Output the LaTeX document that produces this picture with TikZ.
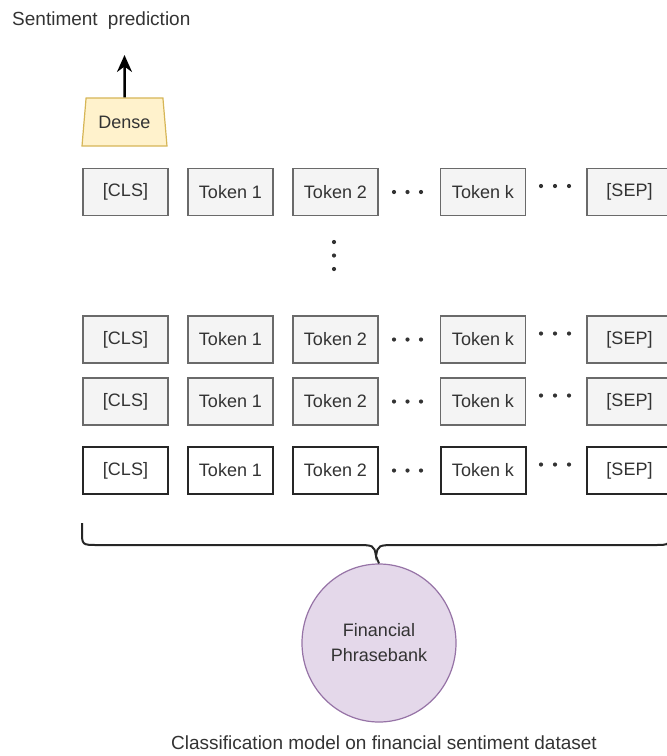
\documentclass[tikz,border=0pt]{standalone}
\usepackage{fontspec}
\setmainfont{Liberation Sans}
\usepackage{xcolor}
\usetikzlibrary{shapes.geometric,arrows.meta}

\definecolor{tokfill}{HTML}{F4F4F4}
\definecolor{tokline}{HTML}{6A6A6A}
\definecolor{densefill}{HTML}{FFF2CC}
\definecolor{denseline}{HTML}{D6B656}
\definecolor{datafill}{HTML}{E4D8EA}
\definecolor{dataline}{HTML}{9673A6}
\definecolor{txt}{HTML}{333333}

\begin{document}
\begin{tikzpicture}[x=1pt, y=-1pt,
	tok/.style={draw=tokline, fill=tokfill, line width=1.5pt, minimum width=85pt, minimum height=47pt, inner sep=0pt, text=txt, font=\fontsize{18}{22}\selectfont},
	toklast/.style={tok, draw=black!85, fill=white, line width=2pt},
	dense/.style={trapezium, trapezium stretches body, trapezium angle=72, draw=denseline, fill=densefill, line width=1.2pt, minimum width=85pt, minimum height=48pt, inner sep=0pt, text=txt, font=\fontsize{18}{22}\selectfont},
	data/.style={ellipse, draw=dataline, fill=datafill, line width=1.2pt, minimum width=154pt, minimum height=158pt, inner sep=0pt, align=center, text=txt, font=\fontsize{18}{25}\selectfont},
	lbl/.style={text=txt, inner sep=0pt, font=\fontsize{19}{23}\selectfont}]
	\useasboundingbox (0,0) rectangle (667,756);

	%Tokenradene
	\foreach \y/\r/\s in {192/a/tok, 339.5/b/tok, 401.5/c/tok, 470.5/d/toklast}{
		\node[\s] (cls\r) at (125.5,\y) {[CLS]};
		\node[\s] (tokA\r) at (230.5,\y) {Token 1};
		\node[\s] (tokB\r) at (335.5,\y) {Token 2};
		\node[\s] (tokK\r) at (483,\y) {Token k};
		\node[\s] (sep\r) at (629.5,\y) {[SEP]};
		\foreach \x in {394,407.5,421} \fill[txt] (\x,\y) circle (2.1pt);
		\foreach \x in {541,555,569} \fill[txt] (\x,\y-6) circle (2.1pt);
	}
	\foreach \y in {242,255.5,269} \fill[txt] (334,\y) circle (2.1pt);

	%Dense og prediksjon
	\node[dense] (dense) at (124.5,122) {Dense};
	\coordinate (pred) at (124.5,55);
	\draw[line width=2.5pt, -{Stealth[length=17pt,width=15pt]}] (dense.north) -- (pred);
	\node[lbl, anchor=west] (senti) at (12,21) {Sentiment\hspace{5pt} prediction};

	%Klammen og datasettet
	\node[data] (fpb) at (379,643) {Financial\\Phrasebank};
	\coordinate (bl) at (82,523);
	\coordinate (br) at (670,523);
	\draw[line width=2pt, black!85] (bl) -- (82,531) .. controls (82,545) .. (98,545) -- (354,545)
		.. controls (374,545) .. (376,556) .. controls (378,545) .. (398,545) -- (654,545)
		.. controls (670,545) .. (670,531) -- (br);
	\draw[line width=2pt, black!85] (376,556) -- (fpb.north);
	\node[lbl] (caption) at (384,743) {Classification model on financial sentiment dataset};

\end{tikzpicture}
\end{document}
